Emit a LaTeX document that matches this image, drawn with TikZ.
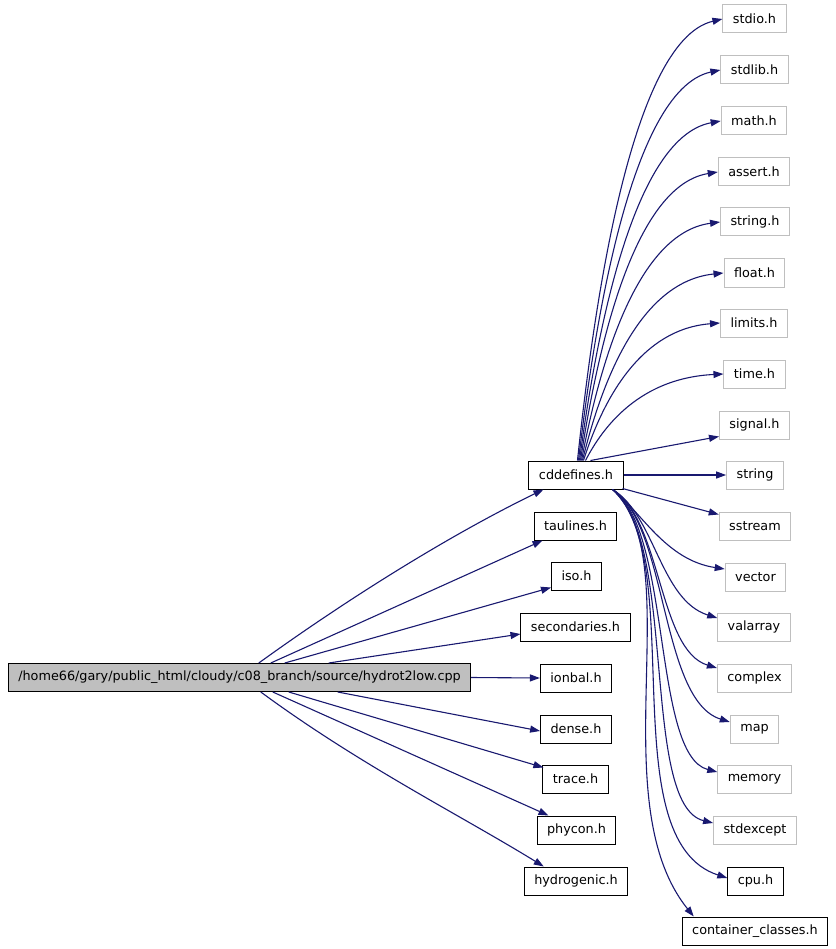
\documentclass[tikz,border=0pt]{standalone}
\usepackage{fontspec}
\setmainfont{DejaVu Sans}
\usetikzlibrary{arrows.meta,calc}
\definecolor{edgeblue}{HTML}{191970}
\definecolor{grayborder}{HTML}{BFBFBF}
\begin{document}
\begin{tikzpicture}[x=1pt,y=-1pt,
  box/.style={draw=black,line width=1pt,minimum height=28pt,inner xsep=10pt,inner ysep=0pt,font=\fontsize{12.8}{15}\selectfont},
  extbox/.style={box,draw=grayborder},
  mainbox/.style={box,fill=grayborder},
  edge/.style={draw=edgeblue,line width=1.1pt,-{Triangle[length=10pt,width=7pt]}}]
\useasboundingbox[fill=white] (0,0) rectangle (835,949);
% main and included headers
\node[mainbox] (main) at (239.5,677.5) {/home66/gary/public\_html/cloudy/c08\_branch/source/hydrot2low.cpp};
\node[box] (cdd) at (576,475) {cddefines.h};
\node[box] (tau) at (575.5,526) {taulines.h};
\node[box] (iso) at (576.5,576) {iso.h};
\node[box] (sec) at (575.5,627) {secondaries.h};
\node[box] (ion) at (576,678) {ionbal.h};
\node[box] (den) at (576,729) {dense.h};
\node[box] (tra) at (575.5,779) {trace.h};
\node[box] (phy) at (576.5,830) {phycon.h};
\node[box] (hyd) at (576,881) {hydrogenic.h};
% right column
\node[extbox] (stdio) at (754.5,19) {stdio.h};
\node[extbox] (stdlib) at (754.5,70) {stdlib.h};
\node[extbox] (math) at (754,121) {math.h};
\node[extbox] (assert) at (754,172) {assert.h};
\node[extbox] (stringh) at (755,222) {string.h};
\node[extbox] (float) at (754.5,273) {float.h};
\node[extbox] (limits) at (754,323) {limits.h};
\node[extbox] (time) at (754.5,374) {time.h};
\node[extbox] (signal) at (754.5,425) {signal.h};
\node[extbox] (string) at (755,475) {string};
\node[extbox] (sstream) at (755,526) {sstream};
\node[extbox] (vector) at (755.5,577) {vector};
\node[extbox] (valarray) at (754,627) {valarray};
\node[extbox] (complex) at (754.5,678) {complex};
\node[extbox] (map) at (754.5,729) {map};
\node[extbox] (memory) at (754.5,779) {memory};
\node[extbox] (stdexcept) at (755,830) {stdexcept};
\node[box] (cpu) at (755.5,881) {cpu.h};
\node[box] (cont) at (755,931) {container\_classes.h};
% edges from main
\draw[edge] ($(main.north west)+(251,0)$) .. controls (360,590) and (460,530) .. ($(cdd.south west)+(15,0)$);
\draw[edge] ($(main.north west)+(263,0)$) -- ($(tau.south west)+(9,0)$);
\draw[edge] ($(main.north west)+(277,0)$) -- ($(iso.south west)+(0,-3)$);
\draw[edge] ($(main.north west)+(321,0)$) -- ($(sec.west)+(0,7)$);
\draw[edge] (main.east) -- (ion.west);
\draw[edge] ($(main.south west)+(330,0)$) -- ($(den.west)+(0,2)$);
\draw[edge] ($(main.south west)+(281,0)$) -- ($(tra.north west)+(1,3)$);
\draw[edge] ($(main.south west)+(265,0)$) -- ($(phy.north west)+(12,0)$);
\draw[edge] ($(main.south west)+(253,0)$) .. controls (360,765) and (460,815) .. ($(hyd.north west)+(20,0)$);
% upper fan from cddefines
\draw[edge] ($(cdd.north west)+(49,0)$) .. controls (591.5,328.4) and (627.8,41.1) .. (stdio.west);
\draw[edge] ($(cdd.north west)+(50,0)$) .. controls (592.3,343.7) and (628.1,89.6) .. (stdlib.west);
\draw[edge] ($(cdd.north west)+(51,0)$) .. controls (593.1,359) and (628.4,138) .. (math.west);
\draw[edge] ($(cdd.north west)+(52,0)$) .. controls (593.7,374.3) and (628,186.5) .. (assert.west);
\draw[edge] ($(cdd.north west)+(53,0)$) .. controls (595,389.3) and (630,234) .. (stringh.west);
\draw[edge] ($(cdd.north west)+(54,0)$) .. controls (596.2,404.6) and (631.7,282.4) .. (float.west);
\draw[edge] ($(cdd.north west)+(55,0)$) .. controls (596.7,419.6) and (631,329.9) .. (limits.west);
\draw[edge] ($(cdd.north west)+(57,0)$) .. controls (598.9,434.9) and (633.7,378.4) .. (time.west);
\draw[edge] ($(cdd.north west)+(62,0)$) -- ($(signal.south west)+(0,-3)$);
\draw[edge] (cdd.east) -- (string.west);
\draw[edge] ($(cdd.south east)+(-1,-1)$) -- ($(sstream.north west)+(0,3)$);
% lower fan from cddefines
\draw[edge] ($(cdd.south east)+(-11,0)$) .. controls (640,510) and (665,560) .. ($(vector.west)+(0,-8)$);
\draw[edge] ($(cdd.south east)+(-11,0)$) .. controls (655,515) and (660,600) .. ($(valarray.west)+(0,-9)$);
\draw[edge] ($(cdd.south east)+(-11,0)$) .. controls (662,520) and (658,650) .. ($(complex.west)+(0,-10)$);
\draw[edge] ($(cdd.south east)+(-11,0)$) .. controls (668,525) and (660,700) .. ($(map.west)+(0,-7)$);
\draw[edge] ($(cdd.south east)+(-11,0)$) .. controls (672,530) and (652,755) .. ($(memory.west)+(0,-7)$);
\draw[edge] ($(cdd.south east)+(-11,0)$) .. controls (678,540) and (640,805) .. ($(stdexcept.west)+(0,-7)$);
\draw[edge] ($(cdd.south east)+(-11,0)$) .. controls (690,560) and (610,840) .. ($(cpu.west)+(0,-3)$);
\draw[edge] ($(cdd.south east)+(-11,0)$) .. controls (690,560) and (600,800) .. ($(cont.north west)+(12,0)$);
\end{tikzpicture}
\end{document}
